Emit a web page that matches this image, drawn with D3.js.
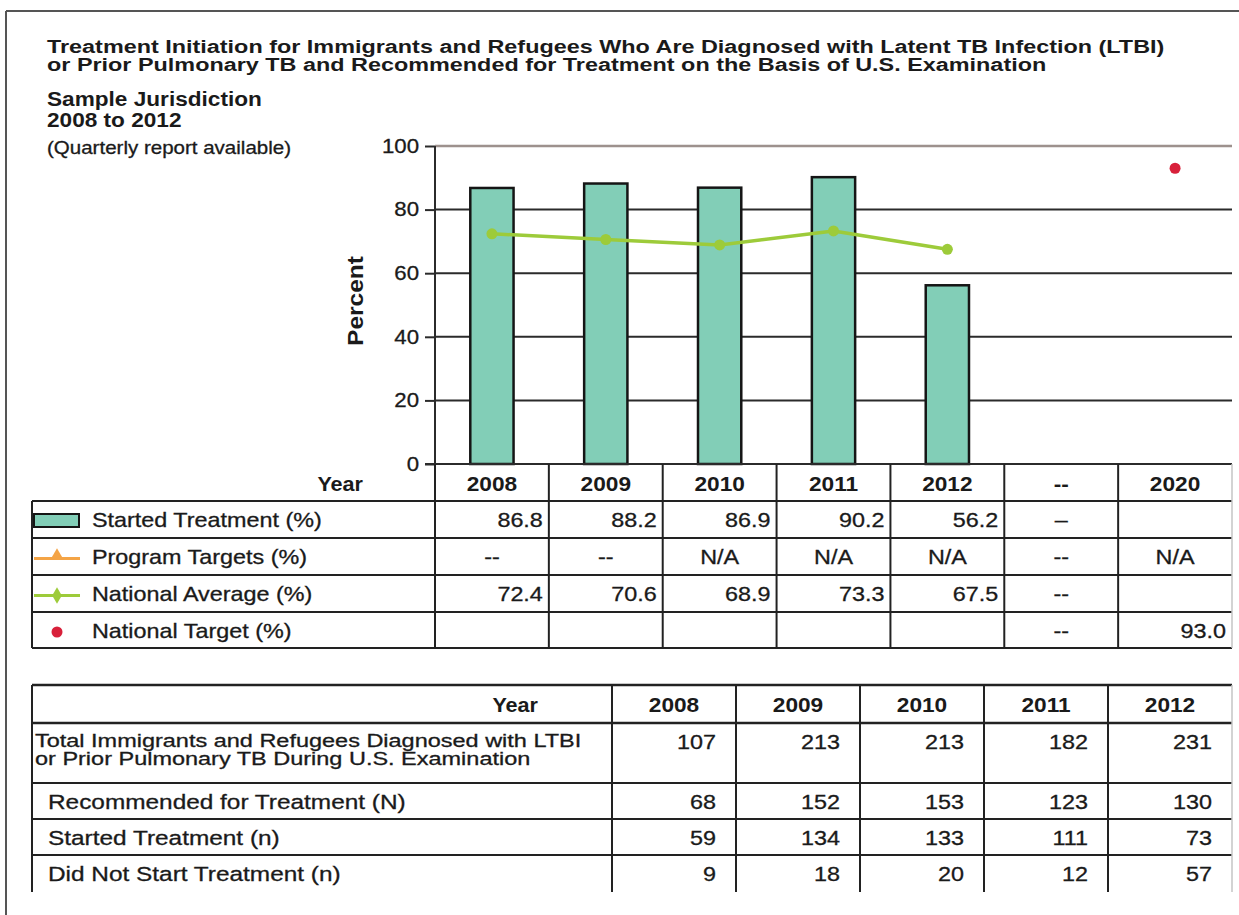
<!DOCTYPE html>
<html><head><meta charset="utf-8">
<script src="https://cdn.jsdelivr.net/npm/d3@7"></script>
<style>
html,body{margin:0;padding:0;background:#fff;}
svg{display:block;}
text{font-family:"Liberation Sans", Arial, Helvetica, sans-serif; fill:#1a1a1a;}
</style></head><body>
<svg id="chart" width="1239" height="915"></svg>
<script>
// ---------------- data ----------------
const titleLines = [
  "Treatment Initiation for Immigrants and Refugees Who Are Diagnosed with Latent TB Infection (LTBI)",
  "or Prior Pulmonary TB and Recommended for Treatment on the Basis of U.S. Examination"
];
const subtitleLines = ["Sample Jurisdiction", "2008 to 2012"];
const noteText = "(Quarterly report available)";
const yAxisLabel = "Percent";
const columns = ["2008", "2009", "2010", "2011", "2012", "--", "2020"];
const years = ["2008", "2009", "2010", "2011", "2012"];
const yTicks = [0, 20, 40, 60, 80, 100];
const startedPct = [86.8, 88.2, 86.9, 90.2, 56.2];
const nationalAvg = [72.4, 70.6, 68.9, 73.3, 67.5];
const nationalTargetYear = "2020";
const nationalTarget = 93.0;
const programTargets = ["--", "--", "N/A", "N/A", "N/A", "--", "N/A"];
const legendLabels = ["Started Treatment (%)", "Program Targets (%)", "National Average (%)", "National Target (%)"];
const lowerLabels = [
  ["Total Immigrants and Refugees Diagnosed with LTBI", "or Prior Pulmonary TB During U.S. Examination"],
  ["Recommended for Treatment (N)"],
  ["Started Treatment (n)"],
  ["Did Not Start Treatment (n)"]
];
const totalDiagnosed = [107, 213, 213, 182, 231];
const recommended = [68, 152, 153, 123, 130];
const startedN = [59, 134, 133, 111, 73];
const notStartedN = [9, 18, 20, 12, 57];

// ---------------- styles ----------------
const C = {
  bar: "#82ceb7", barStroke: "#151515", green: "#9dcb3a", red: "#d8203a",
  orange: "#f4a446", grid: "#2b2b2b", topLine: "#9d918d", line: "#222"
};
const SX = 1.14;

const svg = d3.select("#chart");
svg.append("rect").attr("width", 1239).attr("height", 915).attr("fill", "#fff");

function txt(g, x, y, s, o = {}) {
  const t = g.append("text")
    .attr("transform", `translate(${x},${y}) scale(${o.sx || SX},1)`)
    .attr("text-anchor", o.anchor || "start")
    .attr("dominant-baseline", "central")
    .style("font-size", (o.size || 20) + "px")
    .style("font-weight", o.weight || "normal")
    .text(s);
  if (!o.weight) t.style("stroke", "#1a1a1a").style("stroke-width", "0.3px");
  return t;
}
function hline(g, x1, x2, y, w = 2, c = C.line) {
  g.append("line").attr("x1", x1).attr("x2", x2).attr("y1", y).attr("y2", y)
    .attr("stroke", c).attr("stroke-width", w);
}
function vline(g, x, y1, y2, w = 2, c = C.line) {
  g.append("line").attr("x1", x).attr("x2", x).attr("y1", y1).attr("y2", y2)
    .attr("stroke", c).attr("stroke-width", w);
}

// page frame
hline(svg, 6, 1239, 11, 2, "#555");
vline(svg, 6, 11, 915, 2, "#555");

// titles
const gt = svg.append("g");
titleLines.forEach((t, i) => txt(gt, 47, 46 + i * 18.5, t, { size: 18.5, weight: "bold", sx: 1.265 }));
subtitleLines.forEach((t, i) => txt(gt, 47, 99 + i * 21, t, { size: 19.5, weight: "bold", sx: 1.16 }));
txt(gt, 47, 148, noteText, { size: 18 });

// ---------------- chart ----------------
const pLeft = 435, pRight = 1232, pTop = 146, pBottom = 464;
const x = d3.scaleBand().domain(columns).range([pLeft, pRight]);
const xBar = d3.scaleBand().domain(columns).range([pLeft, pRight]).paddingInner(0.62).paddingOuter(0.31);
const y = d3.scaleLinear().domain([0, 100]).range([pBottom, pTop]);

const gc = svg.append("g");
yTicks.filter(v => v > 0).forEach(v => {
  hline(gc, pLeft, pRight, y(v), v === 100 ? 2.5 : 2, v === 100 ? C.topLine : C.grid);
});
const yAxis = d3.axisLeft(y).tickValues(yTicks).tickSize(10).tickPadding(6);
const ga = gc.append("g").attr("transform", `translate(${pLeft},0)`).call(yAxis);
ga.select(".domain").remove();
ga.selectAll(".tick line").attr("stroke", C.grid).attr("stroke-width", 2);
ga.selectAll(".tick text")
  .attr("font-family", null).attr("font-size", null)
  .style("font-size", "19.5px").attr("fill", "#1a1a1a")
  .style("stroke", "#1a1a1a").style("stroke-width", "0.3px")
  .attr("transform", `scale(${SX},1)`)
  .attr("x", -16 / SX);
gc.append("text")
  .attr("transform", `translate(356,${(pTop + pBottom) / 2 - 4}) rotate(-90) scale(${SX},1)`)
  .attr("text-anchor", "middle").attr("dominant-baseline", "central")
  .style("font-size", "21.5px").style("font-weight", "bold").text(yAxisLabel);

gc.selectAll("rect.bar").data(startedPct).join("rect").attr("class", "bar")
  .attr("x", (d, i) => xBar(years[i]))
  .attr("width", xBar.bandwidth())
  .attr("y", d => y(d))
  .attr("height", d => y(0) - y(d))
  .attr("fill", C.bar).attr("stroke", C.barStroke).attr("stroke-width", 2.5);

const cx = k => x(k) + x.bandwidth() / 2;
gc.append("path").datum(nationalAvg)
  .attr("d", d3.line().x((d, i) => cx(years[i])).y(d => y(d)))
  .attr("fill", "none").attr("stroke", C.green).attr("stroke-width", 3.5)
  .attr("stroke-linejoin", "round");
gc.selectAll("circle.avg").data(nationalAvg).join("circle").attr("class", "avg")
  .attr("cx", (d, i) => cx(years[i])).attr("cy", d => y(d)).attr("r", 5.5).attr("fill", C.green);
gc.append("circle").attr("cx", cx(nationalTargetYear)).attr("cy", y(nationalTarget))
  .attr("r", 5.5).attr("fill", C.red);

vline(gc, pLeft, pTop, pBottom, 2, C.grid);
hline(gc, pLeft - 10, pRight, pBottom, 2, C.grid);

// ---------------- legend table ----------------
const gl = svg.append("g");
const tLeft = 32;
const rowLines = [501, 538, 575, 612, 648];
rowLines.forEach(v => hline(gl, tLeft, pRight, v, 2));
vline(gl, tLeft, rowLines[0], rowLines[4], 2);
columns.forEach(k => vline(gl, x(k), pBottom, rowLines[4], 2));
vline(gl, pRight, pBottom, rowLines[4], 1.5, "#c4c4c4");
const hdrY = (pBottom + rowLines[0]) / 2 + 1;
txt(gl, 363, hdrY, "Year", { size: 20, weight: "bold", sx: 1.08, anchor: "end" });
columns.forEach(k => txt(gl, cx(k), hdrY, k, { size: 21, weight: "bold", anchor: "middle", sx: 1.08 }));
const rowMid = i => (rowLines[i] + rowLines[i + 1]) / 2 + 1;
legendLabels.forEach((s, i) => txt(gl, 92, rowMid(i), s, { size: 20.5 }));
gl.append("rect").attr("x", 34).attr("y", rowMid(0) - 6.5).attr("width", 45).attr("height", 13)
  .attr("fill", C.bar).attr("stroke", C.barStroke).attr("stroke-width", 2);
hline(gl, 34, 80, rowMid(1) + 1, 3, C.orange);
gl.append("path").attr("d", d3.symbol(d3.symbolTriangle, 70)())
  .attr("transform", `translate(57,${rowMid(1) - 2})`).attr("fill", C.orange);
hline(gl, 34, 80, rowMid(2) + 1, 3, C.green);
gl.append("path").attr("d", d3.symbol(d3.symbolDiamond, 80)())
  .attr("transform", `translate(57,${rowMid(2) + 1})`).attr("fill", C.green);
gl.append("circle").attr("cx", 57).attr("cy", rowMid(3) + 1).attr("r", 5.5).attr("fill", C.red);

const fmt = d3.format(".1f");
const valOpts = { size: 20.5, anchor: "end" };
const midOpts = { size: 20.5, anchor: "middle" };
startedPct.forEach((v, i) => txt(gl, x(years[i]) + x.bandwidth() - 6, rowMid(0), fmt(v), valOpts));
txt(gl, cx("--"), rowMid(0), "–", midOpts);
programTargets.forEach((s, i) => txt(gl, cx(columns[i]), rowMid(1), s, midOpts));
nationalAvg.forEach((v, i) => txt(gl, x(years[i]) + x.bandwidth() - 6, rowMid(2), fmt(v), valOpts));
txt(gl, cx("--"), rowMid(2), "--", midOpts);
txt(gl, cx("--"), rowMid(3), "--", midOpts);
txt(gl, x(nationalTargetYear) + x.bandwidth() - 6, rowMid(3), fmt(nationalTarget), valOpts);

// ---------------- lower table ----------------
const gb = svg.append("g");
const bLines = [685, 723, 783, 819, 855, 892];
const xb = d3.scaleBand().domain(years).range([612, pRight]);
[0, 1, 2, 3, 4].forEach(i => hline(gb, tLeft, pRight, bLines[i], i <= 1 ? 2.5 : 2));
vline(gb, tLeft, bLines[0], bLines[5], 2);
years.forEach(k => vline(gb, xb(k), bLines[0], bLines[5], 2));
vline(gb, pRight, bLines[0], bLines[5], 1.5, "#c4c4c4");
const bHdr = (bLines[0] + bLines[1]) / 2 + 1;
txt(gb, 538, bHdr, "Year", { size: 20, weight: "bold", sx: 1.08, anchor: "end" });
years.forEach(k => txt(gb, xb(k) + xb.bandwidth() / 2, bHdr, k, { size: 21, weight: "bold", anchor: "middle", sx: 1.08 }));
txt(gb, 35, 740, lowerLabels[0][0], { size: 18.5, sx: 1.27 });
txt(gb, 35, 758, lowerLabels[0][1], { size: 18.5, sx: 1.27 });
[1, 2, 3].forEach(i => txt(gb, 48, (bLines[i + 1] + bLines[i + 2]) / 2 + 1, lowerLabels[i][0], { size: 20.5, sx: 1.19 }));
const lowerSeries = [totalDiagnosed, recommended, startedN, notStartedN];
lowerSeries.forEach((arr, r) => {
  const yy = r === 0 ? 742 : (bLines[r + 1] + bLines[r + 2]) / 2 + 1;
  arr.forEach((v, i) => txt(gb, xb(years[i]) + xb.bandwidth() - 20, yy, String(v), { size: 20.5, anchor: "end" }));
});
</script>
</body></html>
